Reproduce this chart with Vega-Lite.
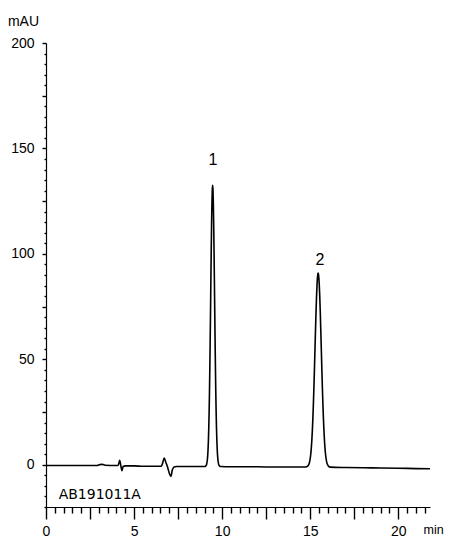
{
  "$schema": "https://vega.github.io/schema/vega-lite/v6.json",
  "width": 384,
  "height": 464,
  "autosize": {"type": "none"},
  "padding": {"left": 46, "top": 43, "right": 23, "bottom": 40},
  "background": "white",
  "config": {
    "view": {"stroke": null},
    "axis": {
      "grid": false,
      "domainColor": "black",
      "domainWidth": 1.2,
      "tickColor": "black",
      "tickWidth": 1.4,
      "labelColor": "black",
      "titleColor": "black",
      "labelFont": "Liberation Sans",
      "titleFont": "Liberation Sans",
      "titleFontWeight": "normal",
      "labelFlush": false,
      "labelOverlap": false
    }
  },
  "datasets": {
    "trace": [
      {"t": 0, "v": -0.3}, {"t": 1, "v": -0.3}, {"t": 2, "v": -0.3}, {"t": 2.9, "v": -0.3},
      {"t": 3.05, "v": 0.1}, {"t": 3.2, "v": 0.2}, {"t": 3.35, "v": -0.2}, {"t": 4.0, "v": -0.3},
      {"t": 4.1, "v": -0.2}, {"t": 4.18, "v": 2.1}, {"t": 4.25, "v": -0.5}, {"t": 4.31, "v": -2.8},
      {"t": 4.38, "v": -0.8}, {"t": 4.5, "v": -0.5}, {"t": 5.0, "v": -0.5}, {"t": 5.5, "v": -0.7},
      {"t": 6.0, "v": -0.7}, {"t": 6.55, "v": -0.6}, {"t": 6.62, "v": 0.8}, {"t": 6.71, "v": 3.2},
      {"t": 6.8, "v": 1.2}, {"t": 6.9, "v": -1.0}, {"t": 7.0, "v": -4.0}, {"t": 7.09, "v": -5.5},
      {"t": 7.17, "v": -2.5}, {"t": 7.27, "v": -1.0}, {"t": 7.4, "v": -0.8}, {"t": 8.0, "v": -0.8},
      {"t": 8.5, "v": -0.8}, {"t": 8.9, "v": -0.8}, {"t": 9.01, "v": -0.8}, {"t": 9.06, "v": -0.6},
      {"t": 9.10, "v": -0.2}, {"t": 9.13, "v": 0.7}, {"t": 9.16, "v": 2.4}, {"t": 9.18, "v": 4.4},
      {"t": 9.20, "v": 7.4}, {"t": 9.22, "v": 11.5}, {"t": 9.24, "v": 17.2}, {"t": 9.26, "v": 24.7},
      {"t": 9.28, "v": 34.1}, {"t": 9.30, "v": 45.5}, {"t": 9.32, "v": 58.5}, {"t": 9.34, "v": 72.7},
      {"t": 9.36, "v": 87.4}, {"t": 9.38, "v": 101.5}, {"t": 9.40, "v": 114.1}, {"t": 9.42, "v": 124.0},
      {"t": 9.44, "v": 130.3}, {"t": 9.46, "v": 132.5}, {"t": 9.48, "v": 130.3}, {"t": 9.50, "v": 124.0},
      {"t": 9.52, "v": 114.1}, {"t": 9.54, "v": 101.5}, {"t": 9.56, "v": 87.4}, {"t": 9.58, "v": 72.7},
      {"t": 9.60, "v": 58.5}, {"t": 9.62, "v": 45.5}, {"t": 9.64, "v": 34.1}, {"t": 9.66, "v": 24.7},
      {"t": 9.68, "v": 17.2}, {"t": 9.70, "v": 11.5}, {"t": 9.72, "v": 7.4}, {"t": 9.74, "v": 4.4},
      {"t": 9.76, "v": 2.4}, {"t": 9.79, "v": 0.7}, {"t": 9.82, "v": -0.2}, {"t": 9.86, "v": -0.6},
      {"t": 9.91, "v": -0.8}, {"t": 10.5, "v": -0.9}, {"t": 11.5, "v": -0.9}, {"t": 12.5, "v": -1.0},
      {"t": 13.5, "v": -1.0}, {"t": 14.3, "v": -1.0}, {"t": 14.75, "v": -1.0}, {"t": 14.85, "v": -0.65},
      {"t": 14.90, "v": -0.1}, {"t": 14.95, "v": 0.9}, {"t": 15.00, "v": 3.0}, {"t": 15.03, "v": 5.0},
      {"t": 15.06, "v": 7.8}, {"t": 15.09, "v": 11.4}, {"t": 15.12, "v": 16.1}, {"t": 15.15, "v": 21.9},
      {"t": 15.18, "v": 28.8}, {"t": 15.21, "v": 36.8}, {"t": 15.24, "v": 45.5}, {"t": 15.27, "v": 54.7},
      {"t": 15.30, "v": 63.9}, {"t": 15.33, "v": 72.6}, {"t": 15.36, "v": 80.1}, {"t": 15.39, "v": 85.9},
      {"t": 15.42, "v": 89.6}, {"t": 15.45, "v": 90.9}, {"t": 15.48, "v": 89.6}, {"t": 15.51, "v": 85.9},
      {"t": 15.54, "v": 80.1}, {"t": 15.57, "v": 72.6}, {"t": 15.60, "v": 63.9}, {"t": 15.63, "v": 54.7},
      {"t": 15.66, "v": 45.5}, {"t": 15.69, "v": 36.8}, {"t": 15.72, "v": 28.8}, {"t": 15.75, "v": 21.9},
      {"t": 15.78, "v": 16.1}, {"t": 15.81, "v": 11.4}, {"t": 15.84, "v": 7.8}, {"t": 15.87, "v": 5.0},
      {"t": 15.90, "v": 3.0}, {"t": 15.95, "v": 0.8}, {"t": 16.00, "v": -0.2}, {"t": 16.05, "v": -0.8},
      {"t": 16.15, "v": -1.1}, {"t": 17, "v": -1.3}, {"t": 18, "v": -1.4}, {"t": 19, "v": -1.5},
      {"t": 20, "v": -1.6}, {"t": 21, "v": -1.8}, {"t": 21.8, "v": -1.9}
    ],
    "peaks": [
      {"t": 9.48, "v": 142.3, "label": "1"},
      {"t": 15.55, "v": 94.9, "label": "2"}
    ],
    "notes": [
      {"t": 0.72, "v": -16.1, "label": "AB191011A"}
    ]
  },
  "encoding": {
    "x": {
      "field": "t",
      "type": "quantitative",
      "scale": {"domain": [0, 21.8], "nice": false, "zero": false},
      "axis": {
        "values": [0, 0.5, 1, 1.5, 2, 2.5, 3, 3.5, 4, 4.5, 5, 5.5, 6, 6.5, 7, 7.5, 8, 8.5, 9, 9.5, 10, 10.5, 11, 11.5, 12, 12.5, 13, 13.5, 14, 14.5, 15, 15.5, 16, 16.5, 17, 17.5, 18, 18.5, 19, 19.5, 20, 20.5, 21, 21.5],
        "format": "~g",
        "labelExpr": "datum.value % 5 === 0 ? datum.label : ''",
        "tickSize": {"condition": {"test": "datum.value % 2.5 === 0", "value": 12}, "value": 6},
        "labelFontSize": 14,
        "labelPadding": 5,
        "labelOverlap": false,
        "title": "min",
        "titleFontSize": 12.5,
        "titleAlign": "left",
        "titleAnchor": "start",
        "titleBaseline": "alphabetic",
        "titleX": 377,
        "titleY": 26
      }
    },
    "y": {
      "field": "v",
      "type": "quantitative",
      "scale": {"domain": [-20, 200], "nice": false, "zero": false},
      "axis": {
        "values": [-20, -15, -10, -5, 0, 5, 10, 15, 20, 25, 30, 35, 40, 45, 50, 55, 60, 65, 70, 75, 80, 85, 90, 95, 100, 105, 110, 115, 120, 125, 130, 135, 140, 145, 150, 155, 160, 165, 170, 175, 180, 185, 190, 195, 200],
        "format": "~g",
        "labelExpr": "datum.value >= 0 && datum.value % 50 === 0 ? datum.label : ''",
        "tickSize": {"condition": {"test": "datum.value % 25 === 0", "value": 4}, "value": 2},
        "labelFontSize": 14,
        "labelPadding": 8,
        "labelOverlap": false,
        "title": "mAU",
        "titleFontSize": 14,
        "titleAngle": 0,
        "titleAlign": "center",
        "titleBaseline": "alphabetic",
        "titleX": -23,
        "titleY": -18
      }
    }
  },
  "layer": [
    {
      "data": {"name": "trace"},
      "mark": {"type": "line", "color": "black", "strokeWidth": 1.6, "interpolate": "monotone"}
    },
    {
      "data": {"name": "peaks"},
      "mark": {"type": "text", "font": "Liberation Sans", "fontSize": 16, "color": "black", "baseline": "alphabetic", "align": "center"},
      "encoding": {"text": {"field": "label"}}
    },
    {
      "data": {"name": "notes"},
      "mark": {"type": "text", "font": "DejaVu Sans", "fontSize": 14, "color": "black", "baseline": "alphabetic", "align": "left"},
      "encoding": {"text": {"field": "label"}}
    }
  ]
}
